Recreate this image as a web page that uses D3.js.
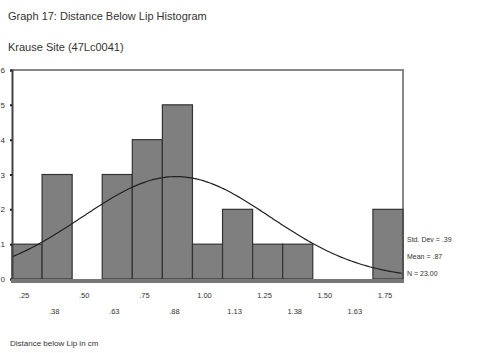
<!DOCTYPE html>
<html>
<head>
<meta charset="utf-8">
<script src="https://cdn.jsdelivr.net/npm/d3@7"></script>
<style>
  html, body { margin: 0; padding: 0; background: #fff; }
  svg { display: block; font-family: "Liberation Sans", Arial, sans-serif; }
</style>
</head>
<body>
<svg id="chart" width="479" height="353"></svg>
<script>
// Histogram bins (centres, cm) and counts
const binCenters = [0.25, 0.375, 0.5, 0.625, 0.75, 0.875, 1.0, 1.125, 1.25, 1.375, 1.5, 1.625, 1.75];
const counts     = [1, 3, 0, 3, 4, 5, 1, 2, 1, 1, 0, 0, 2];
const topTicks    = [".25", ".50", ".75", "1.00", "1.25", "1.50", "1.75"];
const bottomTicks = [".38", ".63", ".88", "1.13", "1.38", "1.63"];
const yTicks = [0, 1, 2, 3, 4, 5, 6];
const stats = { sd: 0.39, mean: 0.87, n: 23 };
const statLines = ["Std. Dev = .39", "Mean = .87", "N = 23.00"];

const binWidth = 0.125;
const svg = d3.select("#chart");

const plotL = 12, plotR = 403, plotT = 70, plotB = 279;
const x = d3.scaleLinear()
  .domain([binCenters[0] - binWidth / 2, binCenters[binCenters.length - 1] + binWidth / 2])
  .range([plotL, plotR]);
const y = d3.scaleLinear().domain([0, 6]).range([plotB, plotT]);

// Titles
svg.append("text").attr("x", 8).attr("y", 20).attr("font-size", 11).attr("fill", "#333")
  .text("Graph 17: Distance Below Lip Histogram");
svg.append("text").attr("x", 8).attr("y", 51).attr("font-size", 11).attr("fill", "#333")
  .text("Krause Site (47Lc0041)");
svg.append("text").attr("x", 10).attr("y", 346).attr("font-size", 8).attr("fill", "#333")
  .text("Distance below Lip in cm");

// Plot frame (top and right edges)
svg.append("path")
  .attr("d", `M${plotL},${plotT}H${plotR}V${plotB}`)
  .attr("fill", "none").attr("stroke", "#888").attr("stroke-width", 2);

// Bars
svg.append("g").selectAll("rect")
  .data(binCenters.map((c, i) => ({ c, v: counts[i] })).filter(d => d.v > 0))
  .join("rect")
  .attr("x", d => x(d.c - binWidth / 2))
  .attr("width", d => x(d.c + binWidth / 2) - x(d.c - binWidth / 2))
  .attr("y", d => y(d.v))
  .attr("height", d => y(0) - y(d.v))
  .attr("fill", "#7f7f7f")
  .attr("stroke", "#333").attr("stroke-width", 1.2);

// Normal curve scaled to counts
const scaleN = stats.n * binWidth / (stats.sd * Math.sqrt(2 * Math.PI));
const curvePts = d3.range(x.domain()[0], x.domain()[1] + 0.001, 0.01).map(v =>
  [v, scaleN * Math.exp(-0.5 * Math.pow((v - stats.mean) / stats.sd, 2))]);
svg.append("path")
  .datum(curvePts)
  .attr("d", d3.line().x(d => x(d[0])).y(d => y(d[1])).curve(d3.curveBasis))
  .attr("fill", "none").attr("stroke", "#222").attr("stroke-width", 1.2);

// Y axis
const yAxis = svg.append("g").attr("transform", `translate(${plotL},0)`)
  .call(d3.axisLeft(y).tickValues(yTicks).tickFormat(d3.format("d")).tickSize(2).tickPadding(5));
yAxis.select(".domain").attr("stroke", "#444").attr("stroke-width", 2);
yAxis.selectAll(".tick line").attr("stroke", "#222").attr("stroke-width", 2);
yAxis.selectAll(".tick text").attr("font-size", 8).attr("fill", "#333");

// X axis bar
svg.append("line").attr("x1", plotL - 1).attr("x2", plotR + 1)
  .attr("y1", plotB + 2).attr("y2", plotB + 2)
  .attr("stroke", "#777").attr("stroke-width", 4);

// X tick labels, alternating two rows
const xLabels = binCenters.map((c, i) => ({
  c,
  label: i % 2 === 0 ? topTicks[i / 2] : bottomTicks[(i - 1) / 2],
  row: i % 2
}));
svg.append("g").selectAll("text")
  .data(xLabels)
  .join("text")
  .attr("x", d => x(d.c) - 3)
  .attr("y", d => d.row === 0 ? 298 : 314)
  .attr("text-anchor", "middle")
  .attr("font-size", 7.5).attr("fill", "#333")
  .text(d => d.label);

// Summary statistics
svg.append("g").selectAll("text")
  .data(statLines)
  .join("text")
  .attr("x", 407)
  .attr("y", (d, i) => 242 + i * 17)
  .attr("font-size", 7).attr("fill", "#333")
  .text(d => d);
</script>
</body>
</html>
